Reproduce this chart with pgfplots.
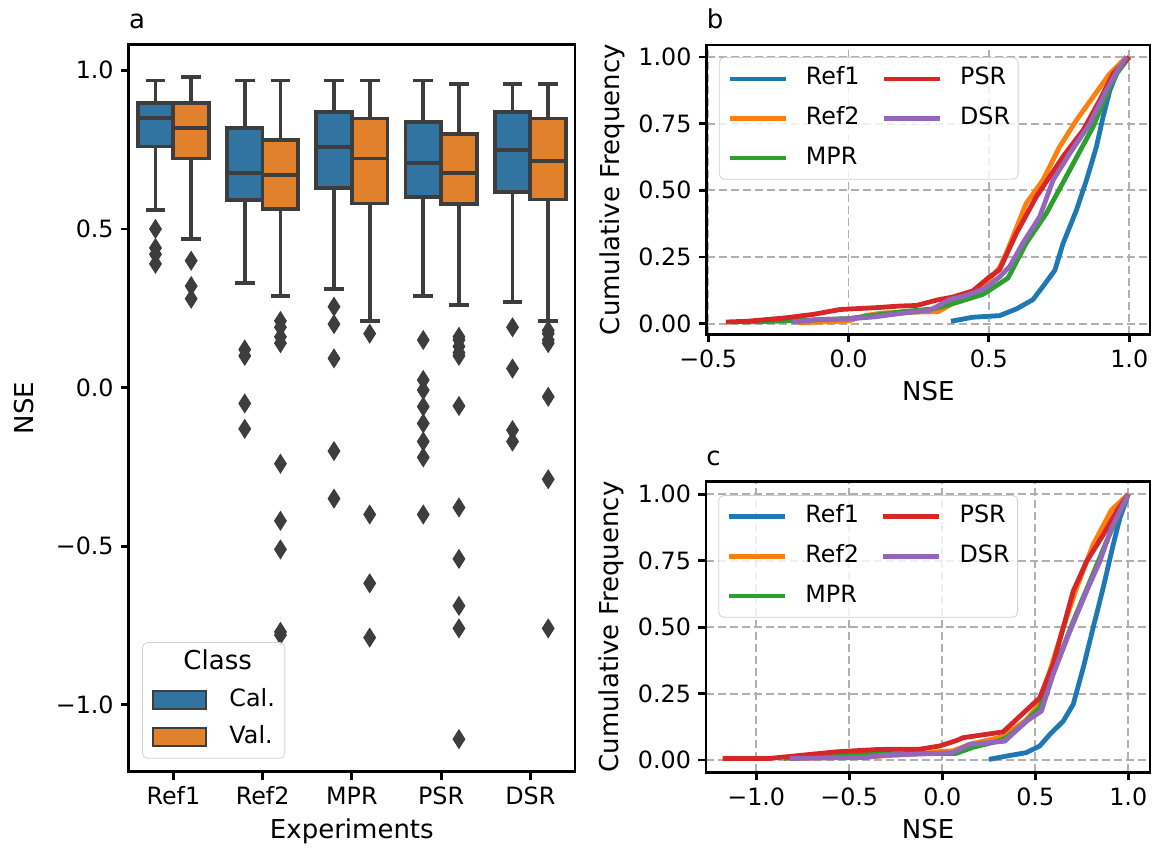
\documentclass[border=0pt]{standalone}
\usepackage{fontspec}
\setmainfont{DejaVu Sans}
\usepackage{pgfplots}
\pgfplotsset{compat=1.18}
\usepgfplotslibrary{statistics}

\definecolor{c1}{HTML}{1F77B4}
\definecolor{c2}{HTML}{FF7F0E}
\definecolor{c3}{HTML}{2CA02C}
\definecolor{c4}{HTML}{D62728}
\definecolor{c5}{HTML}{9467BD}
\definecolor{calc}{HTML}{3274A1}
\definecolor{valc}{HTML}{E1812C}
\definecolor{bgray}{HTML}{3D3D3D}
\definecolor{gridc}{HTML}{B0B0B0}

\pgfplotsset{
  panel/.style={
    scale only axis,
    axis line style={line width=1.4pt},
    tick style={line width=1.4pt, black},
    tick align=outside,
    major tick length=4pt,
    tick pos=left,
    /pgf/number format/assume math mode=true,
    tick label style={font=\fontsize{11.9}{14}\selectfont},
    label style={font=\fontsize{13}{15.6}\selectfont},
    title style={at={(0,1)}, anchor=base west, yshift=2pt, inner sep=0pt,
      font=\fontsize{13}{15.6}\selectfont},
  },
  ecdf/.style={
    panel,
    grid=major,
    major grid style={gridc, line width=0.9pt, dash pattern=on 4.2pt off 1.8pt},
    ymin=-0.04, ymax=1.045,
    ytick={0,0.25,0.5,0.75,1},
    yticklabels={0.00,0.25,0.50,0.75,1.00},
    xlabel={NSE}, ylabel={Cumulative Frequency},
    legend columns=2,
    legend cell align=left,
    legend image code/.code={\draw[##1, line width=2.3pt] (0pt,0pt) -- (28pt,0pt);},
    legend style={anchor=north west, draw=black!18, rounded corners=2.5pt,
      fill=white, fill opacity=0.8, text opacity=1,
      font=\fontsize{11.9}{14}\selectfont,
      inner xsep=4pt, inner ysep=5pt, row sep=8.5pt,
      nodes={inner sep=0pt, text height=8.7pt, text depth=2.6pt},
      /tikz/every odd column/.append style={column sep=9pt},
      /tikz/every even column/.append style={column sep=11pt}},
  },
  cdf/.style={line width=2.4pt, line join=round, no marks, forget plot},
  bx/.style={draw=bgray, line width=1.9pt, mark=diamond*,
    mark options={fill=bgray, draw=bgray, line width=0.5pt, xscale=0.85},
    mark size=4.6pt, forget plot},
}

\begin{document}
\begin{tikzpicture}
\path[use as bounding box] (0,0) rectangle (578pt,-427pt);

% panel a: box plots
\begin{axis}[panel,
  at={(64.35pt,-385.9pt)}, anchor=south west,
  width=223.15pt, height=363.75pt,
  title={a},
  xmin=-0.5, xmax=4.5, ymin=-1.211, ymax=1.082,
  xtick={0,1,2,3,4},
  xticklabels={Ref1,Ref2,MPR,PSR,DSR},
  ytick={-1,-0.5,0,0.5,1},
  yticklabels={−1.0,−0.5,0.0,0.5,1.0},
  xlabel={Experiments}, ylabel={NSE}, ylabel shift=4pt,
  boxplot/draw direction=y,
  boxplot/box extend=0.4, boxplot/whisker extend=0.22,
  legend cell align=left,
  legend image code/.code={\draw[#1, sharp corners, fill opacity=1, line width=1pt] (0pt,-4.5pt) rectangle (26.5pt,4.5pt);},
  legend style={at={(0.03,0.018)}, anchor=south west, draw=black!18, rounded corners=2.5pt,
    fill=white, fill opacity=0.8, text opacity=1,
    font=\fontsize{11.9}{14}\selectfont,
    inner xsep=5pt, inner ysep=5pt, row sep=7pt,
    nodes={inner sep=0pt, text height=8.7pt, text depth=2.6pt},
    /tikz/every odd column/.append style={column sep=11pt}},
]
\addlegendimage{empty legend}
\addlegendentry{\hspace{-23pt}\fontsize{13}{15.6}\selectfont Class}
\addlegendimage{fill=calc, draw=bgray}
\addlegendentry{Cal.}
\addlegendimage{fill=valc, draw=bgray}
\addlegendentry{Val.}

% Ref1
\addplot[bx, fill=calc, boxplot prepared={draw position=-0.2,
  lower whisker=0.559, lower quartile=0.76, median=0.85, upper quartile=0.897, upper whisker=0.968}]
  coordinates {(0,0.50) (0,0.44) (0,0.42) (0,0.39)};
\addplot[bx, fill=valc, boxplot prepared={draw position=0.2,
  lower whisker=0.468, lower quartile=0.722, median=0.818, upper quartile=0.897, upper whisker=0.979}]
  coordinates {(0,0.40) (0,0.32) (0,0.28)};
% Ref2
\addplot[bx, fill=calc, boxplot prepared={draw position=0.8,
  lower whisker=0.33, lower quartile=0.591, median=0.677, upper quartile=0.818, upper whisker=0.968}]
  coordinates {(0,0.12) (0,0.10) (0,-0.05) (0,-0.13)};
\addplot[bx, fill=valc, boxplot prepared={draw position=1.2,
  lower whisker=0.289, lower quartile=0.564, median=0.669, upper quartile=0.78, upper whisker=0.968}]
  coordinates {(0,0.21) (0,0.19) (0,0.16) (0,0.14) (0,-0.24) (0,-0.42) (0,-0.51) (0,-0.77) (0,-0.78)};
% MPR
\addplot[bx, fill=calc, boxplot prepared={draw position=1.8,
  lower whisker=0.31, lower quartile=0.63, median=0.758, upper quartile=0.869, upper whisker=0.968}]
  coordinates {(0,0.255) (0,0.20) (0,0.092) (0,-0.20) (0,-0.35)};
\addplot[bx, fill=valc, boxplot prepared={draw position=2.2,
  lower whisker=0.21, lower quartile=0.58, median=0.722, upper quartile=0.848, upper whisker=0.968}]
  coordinates {(0,0.17) (0,-0.40) (0,-0.617) (0,-0.788)};
% PSR
\addplot[bx, fill=calc, boxplot prepared={draw position=2.8,
  lower whisker=0.289, lower quartile=0.601, median=0.708, upper quartile=0.837, upper whisker=0.968}]
  coordinates {(0,0.15) (0,0.024) (0,-0.008) (0,-0.06) (0,-0.113) (0,-0.17) (0,-0.22) (0,-0.40)};
\addplot[bx, fill=valc, boxplot prepared={draw position=3.2,
  lower whisker=0.26, lower quartile=0.578, median=0.677, upper quartile=0.80, upper whisker=0.958}]
  coordinates {(0,0.16) (0,0.15) (0,0.13) (0,0.11) (0,0.10) (0,-0.058) (0,-0.378) (0,-0.54) (0,-0.688) (0,-0.759) (0,-1.108)};
% DSR
\addplot[bx, fill=calc, boxplot prepared={draw position=3.8,
  lower whisker=0.27, lower quartile=0.617, median=0.748, upper quartile=0.869, upper whisker=0.958}]
  coordinates {(0,0.19) (0,0.06) (0,-0.134) (0,-0.17)};
\addplot[bx, fill=valc, boxplot prepared={draw position=4.2,
  lower whisker=0.21, lower quartile=0.593, median=0.714, upper quartile=0.848, upper whisker=0.958}]
  coordinates {(0,0.18) (0,0.17) (0,0.15) (0,0.14) (0,-0.029) (0,-0.289) (0,-0.759)};
\end{axis}

% panel b: calibration ECDF
\begin{axis}[ecdf,
  at={(353.25pt,-167.15pt)}, anchor=south west,
  width=221.75pt, height=144.65pt,
  title={b},
  xmin=-0.506, xmax=1.074,
  xtick={-0.5,0,0.5,1},
  xticklabels={−0.5,0.0,0.5,1.0},
  legend style={at={(0.028,0.958)}},
]
\addlegendimage{c1}\addlegendentry{Ref1}
\addlegendimage{c4}\addlegendentry{PSR}
\addlegendimage{c2}\addlegendentry{Ref2}
\addlegendimage{c5}\addlegendentry{DSR}
\addlegendimage{c3}\addlegendentry{MPR}

\addplot[cdf, c1] coordinates {(0.365,0.009) (0.443,0.024) (0.538,0.03) (0.598,0.055) (0.657,0.09) (0.693,0.14) (0.735,0.2) (0.764,0.30) (0.812,0.426) (0.848,0.539) (0.883,0.663) (0.907,0.776) (0.931,0.875) (0.955,0.938) (0.99,1.0)};
\addplot[cdf, c2] coordinates {(-0.18,0.003) (0.0,0.01) (0.06,0.03) (0.12,0.04) (0.32,0.045) (0.37,0.075) (0.455,0.125) (0.49,0.15) (0.538,0.21) (0.562,0.264) (0.633,0.451) (0.693,0.539) (0.752,0.663) (0.812,0.763) (0.871,0.85) (0.931,0.938) (0.99,1.0)};
\addplot[cdf, c3] coordinates {(-0.38,0.006) (-0.23,0.01) (0.0,0.019) (0.183,0.044) (0.3,0.055) (0.372,0.075) (0.479,0.11) (0.538,0.15) (0.568,0.171) (0.633,0.302) (0.705,0.414) (0.788,0.576) (0.871,0.738) (0.931,0.888) (0.955,0.938) (1.0,1.0)};
\addplot[cdf, c4] coordinates {(-0.437,0.006) (-0.36,0.009) (-0.23,0.021) (-0.124,0.035) (-0.03,0.053) (0.10,0.06) (0.183,0.066) (0.242,0.068) (0.313,0.088) (0.372,0.10) (0.443,0.123) (0.502,0.175) (0.538,0.202) (0.598,0.339) (0.669,0.476) (0.764,0.626) (0.836,0.726) (0.895,0.838) (0.943,0.938) (1.0,1.0)};
\addplot[cdf, c5] coordinates {(-0.20,0.006) (-0.11,0.015) (0.0,0.018) (0.089,0.025) (0.183,0.038) (0.29,0.05) (0.36,0.09) (0.42,0.106) (0.485,0.131) (0.538,0.175) (0.574,0.214) (0.621,0.302) (0.681,0.401) (0.729,0.539) (0.788,0.638) (0.86,0.75) (0.919,0.875) (0.955,0.944) (0.99,1.0)};
\end{axis}

% panel c: validation ECDF
\begin{axis}[ecdf,
  at={(353pt,-386.15pt)}, anchor=south west,
  width=222pt, height=145.3pt,
  title={c},
  ymin=-0.046, ymax=1.047,
  xmin=-1.27, xmax=1.117,
  xtick={-1,-0.5,0,0.5,1},
  xticklabels={−1.0,−0.5,0.0,0.5,1.0},
  legend style={at={(0.028,0.954)}},
]
\addlegendimage{c1}\addlegendentry{Ref1}
\addlegendimage{c4}\addlegendentry{PSR}
\addlegendimage{c2}\addlegendentry{Ref2}
\addlegendimage{c5}\addlegendentry{DSR}
\addlegendimage{c3}\addlegendentry{MPR}

\addplot[cdf, c1] coordinates {(0.251,0.0025) (0.345,0.015) (0.452,0.028) (0.524,0.053) (0.578,0.096) (0.65,0.146) (0.704,0.209) (0.758,0.347) (0.811,0.497) (0.865,0.647) (0.919,0.81) (0.955,0.91) (1.0,1.0)};
\addplot[cdf, c2] coordinates {(-0.82,0.006) (-0.4,0.012) (-0.1,0.025) (0.0,0.033) (0.06,0.035) (0.15,0.06) (0.326,0.088) (0.45,0.15) (0.506,0.196) (0.578,0.334) (0.65,0.497) (0.722,0.647) (0.811,0.81) (0.91,0.941) (1.0,1.0)};
\addplot[cdf, c3] coordinates {(-0.85,0.006) (-0.52,0.019) (-0.16,0.025) (0.075,0.025) (0.165,0.048) (0.29,0.069) (0.345,0.084) (0.434,0.134) (0.524,0.196) (0.614,0.359) (0.704,0.522) (0.794,0.672) (0.883,0.822) (0.955,0.935) (1.0,1.0)};
\addplot[cdf, c4] coordinates {(-1.18,0.006) (-0.93,0.006) (-0.57,0.031) (-0.34,0.04) (-0.12,0.041) (-0.014,0.053) (0.075,0.073) (0.111,0.084) (0.327,0.106) (0.524,0.234) (0.596,0.359) (0.65,0.497) (0.704,0.635) (0.776,0.747) (0.865,0.847) (0.937,0.935) (1.0,1.0)};
\addplot[cdf, c5] coordinates {(-0.82,0.006) (-0.41,0.01) (-0.30,0.019) (-0.014,0.025) (0.057,0.028) (0.147,0.059) (0.336,0.071) (0.452,0.146) (0.533,0.184) (0.596,0.322) (0.686,0.484) (0.776,0.635) (0.847,0.747) (0.91,0.872) (1.0,1.0)};
\end{axis}
\end{tikzpicture}
\end{document}
